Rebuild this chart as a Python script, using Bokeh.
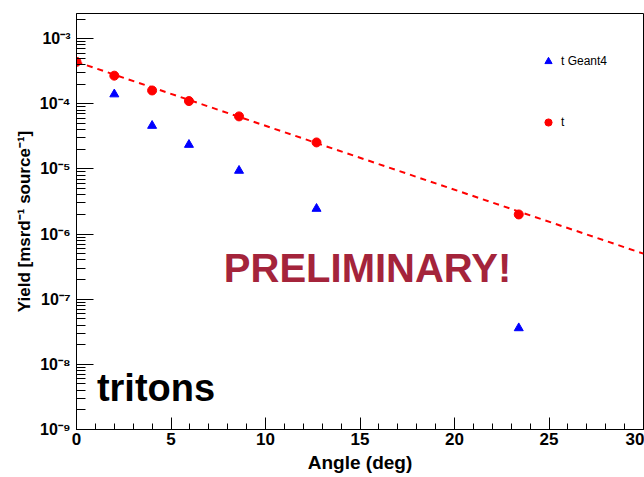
from bokeh.plotting import figure
from bokeh.models import (FixedTicker, SingleIntervalTicker, CustomJSTickFormatter,
                          Label, Legend, LegendItem, Range1d)
from bokeh.embed import file_html
from bokeh.resources import INLINE

# ---- data ----
angle_t = [0.0, 2.0, 4.0, 5.95, 8.6, 12.7, 23.4]
yield_t = [4.4e-4, 2.7e-4, 1.6e-4, 1.1e-4, 6.4e-5, 2.55e-5, 2.0e-6]

angle_g4 = [2.0, 4.0, 5.95, 8.6, 12.7, 23.4]
yield_g4 = [1.4e-4, 4.6e-5, 2.35e-5, 9.4e-6, 2.45e-6, 3.6e-8]

fit_x = [0.0, 30.0]
fit_y = [4.4e-4, 5.0e-7]

y_major = [1e-9, 1e-8, 1e-7, 1e-6, 1e-5, 1e-4, 1e-3]
y_minor = [m * d for d in [1e-9, 1e-8, 1e-7, 1e-6, 1e-5, 1e-4, 1e-3] for m in range(2, 10)]

FONT = "Liberation Sans"

p = figure(width=644, height=477, output_backend="svg", toolbar_location=None,
           y_axis_type="log", x_range=Range1d(0, 30), y_range=Range1d(1e-9, 2.43e-3),
           min_border_left=76, min_border_right=1, min_border_top=13, min_border_bottom=48)
p.background_fill_color = "white"
p.border_fill_color = "white"
p.outline_line_color = "black"
p.outline_line_width = 1
p.xgrid.visible = False
p.ygrid.visible = False

# axes
xa = p.xaxis[0]
xa.ticker = SingleIntervalTicker(interval=5, num_minor_ticks=5)
xa.major_tick_in = 12
xa.major_tick_out = 0
xa.minor_tick_in = 6
xa.minor_tick_out = 0
xa.axis_line_color = "black"
xa.major_tick_line_color = "black"
xa.minor_tick_line_color = "black"
xa.major_label_text_font = FONT
xa.major_label_text_font_style = "bold"
xa.major_label_text_font_size = "17px"
xa.major_label_text_color = "black"
xa.major_label_standoff = 3
xa.axis_label = "Angle (deg)"
xa.axis_label_text_font = FONT
xa.axis_label_text_font_style = "bold"
xa.axis_label_text_font_size = "19px"
xa.axis_label_text_color = "black"
xa.axis_label_standoff = 4

ya = p.yaxis[0]
ya.ticker = FixedTicker(ticks=y_major, minor_ticks=y_minor)
ya.formatter = CustomJSTickFormatter(code="""
const sup = {"-":"\u207b","0":"\u2070","1":"\u00b9","2":"\u00b2","3":"\u00b3","4":"\u2074",
             "5":"\u2075","6":"\u2076","7":"\u2077","8":"\u2078","9":"\u2079"};
const e = Math.round(Math.log10(tick));
return "10" + String(e).split("").map(c => sup[c]).join("");
""")
ya.major_tick_in = 17
ya.major_tick_out = 0
ya.minor_tick_in = 9
ya.minor_tick_out = 0
ya.axis_line_color = "black"
ya.major_tick_line_color = "black"
ya.minor_tick_line_color = "black"
ya.major_label_text_font = FONT
ya.major_label_text_font_style = "bold"
ya.major_label_text_font_size = "16px"
ya.major_label_text_color = "black"
ya.major_label_standoff = 6
ya.axis_label = "Yield [msrd\u207b\u00b9 source\u207b\u00b9]"
ya.axis_label_text_font = FONT
ya.axis_label_text_font_style = "bold"
ya.axis_label_text_font_size = "17px"
ya.axis_label_text_color = "black"
ya.axis_label_standoff = 3

# fit line
p.line(fit_x, fit_y, line_color="#ff0000", line_width=2, line_dash="6 5")

# data
r_g4 = p.scatter(angle_g4, yield_g4, marker="triangle", size=9,
                 fill_color="#0000ff", line_color="#0000ff")
r_t = p.scatter(angle_t, yield_t, marker="circle", size=9,
                fill_color="#ff0000", line_color="#ff0000")

legend = Legend(items=[LegendItem(label="t Geant4", renderers=[r_g4]),
                       LegendItem(label="t", renderers=[r_t])],
                location=(463, 298), orientation="vertical",
                glyph_width=18, glyph_height=18, spacing=43, padding=0, margin=0,
                label_standoff=4, label_text_font=FONT, label_text_font_size="12px",
                label_text_color="black", border_line_color=None,
                background_fill_alpha=0)
p.add_layout(legend, "center")

p.add_layout(Label(x=15.4, y=3.05e-7, text="PRELIMINARY!", text_align="center",
                   text_baseline="alphabetic", text_font=FONT, text_font_style="bold",
                   text_font_size="40px", text_color="#a4243b"))
p.add_layout(Label(x=1.08, y=4.4e-9, text="tritons", text_align="left",
                   text_baseline="alphabetic", text_font=FONT, text_font_style="bold",
                   text_font_size="38px", text_color="black"))

open("out.html", "w").write(file_html(p, INLINE))
